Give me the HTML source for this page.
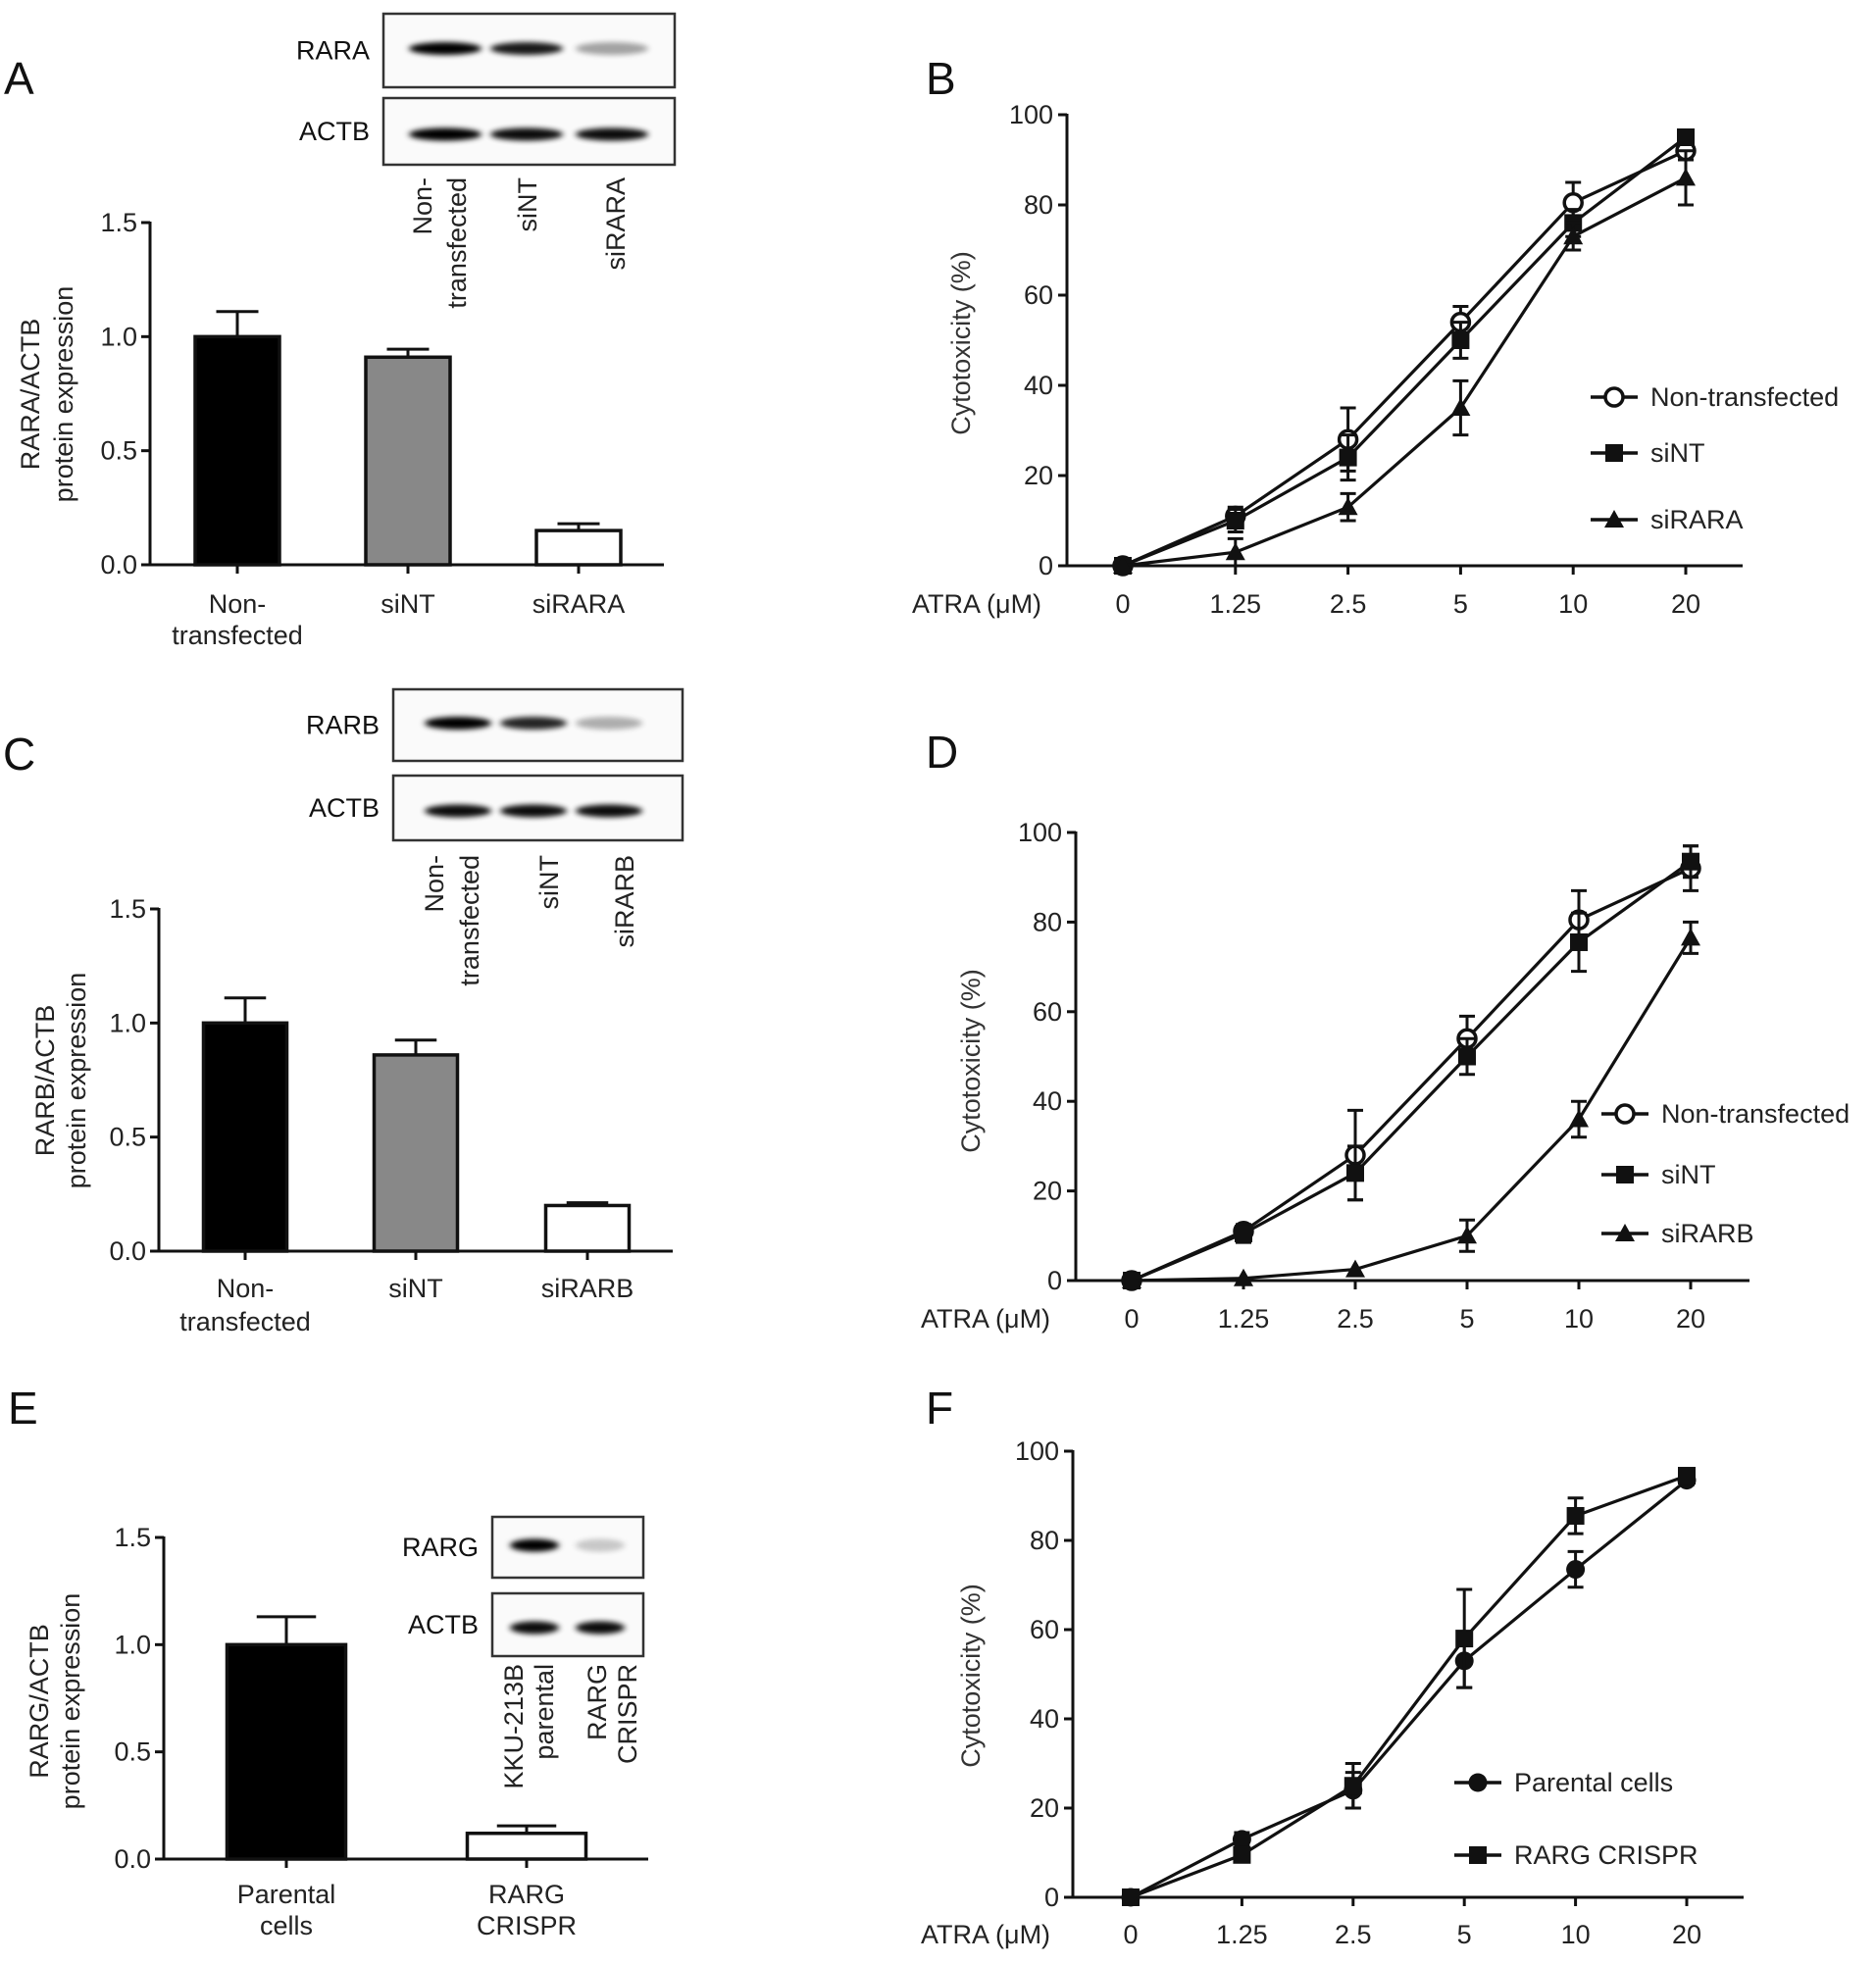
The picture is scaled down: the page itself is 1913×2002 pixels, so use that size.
<!DOCTYPE html>
<html><head><meta charset="utf-8">
<style>
html,body{margin:0;padding:0;background:#fff;}
svg{display:block;font-family:"Liberation Sans",Arial,sans-serif;}
</style></head>
<body>
<svg id="fig" width="1913" height="2002" viewBox="0 0 1913 2002" xmlns="http://www.w3.org/2000/svg">
<defs>
<filter id="blur" x="-30%" y="-100%" width="160%" height="300%"><feGaussianBlur stdDeviation="3.2 2.6"/></filter>
</defs>
</svg>
<script>
// ---- Panel A data ----
const barA_cats = ["Non-|transfected","siNT","siRARA"];
const barA_vals = [1.0, 0.91, 0.15];
const barA_errs = [0.11, 0.035, 0.03];
// ---- Panel C data ----
const barC_cats = ["Non-|transfected","siNT","siRARB"];
const barC_vals = [1.0, 0.86, 0.20];
const barC_errs = [0.11, 0.065, 0.012];
// ---- Panel E data ----
const barE_cats = ["Parental|cells","RARG|CRISPR"];
const barE_vals = [1.0, 0.12];
const barE_errs = [0.13, 0.035];
const bar_yticks = ["0.0","0.5","1.0","1.5"];
// ---- Line charts ----
const atra_doses = ["0","1.25","2.5","5","10","20"];
const line_yticks = ["0","20","40","60","80","100"];
// Panel B
const lineB_nt = [0, 11, 28, 54, 80.5, 92];
const lineB_nt_err = [0.5, 2, 7, 3.5, 4.5, 2];
const lineB_sint = [0, 10, 24, 50, 76, 95];
const lineB_sint_err = [0.5, 2.5, 5, 4, 3, 1.5];
const lineB_si = [0, 3, 13, 35, 73, 86];
const lineB_si_err = [0.5, 3, 3, 6, 3, 6];
// Panel D
const lineD_nt = [0, 11, 28, 54, 80.5, 92];
const lineD_nt_err = [0.5, 1.5, 10, 5, 6.5, 5];
const lineD_sint = [0, 10.5, 24, 50, 75.5, 93.5];
const lineD_sint_err = [0.5, 2, 6, 4, 6.5, 3.5];
const lineD_si = [0, 0.5, 2.5, 10, 36, 76.5];
const lineD_si_err = [0.3, 0.5, 0.5, 3.5, 4, 3.5];
// Panel F
const lineF_par = [0, 13, 24, 53, 73.5, 93.5];
const lineF_par_err = [0.5, 1.5, 4, 6, 4, 1];
const lineF_cr = [0, 9.5, 25, 58, 85.5, 94.5];
const lineF_cr_err = [0.5, 1.5, 5, 11, 4, 1.5];
// Blot band intensities (0-1)
const blotA_target = [1.0, 0.9, 0.35];
const blotA_actb = [1.0, 0.95, 0.95];
const blotC_target = [1.0, 0.85, 0.3];
const blotC_actb = [0.95, 0.95, 0.95];
const blotE_target = [1.0, 0.2];
const blotE_actb = [0.95, 0.95];

const NS = "http://www.w3.org/2000/svg";
const svg = document.getElementById("fig");
function mk(tag, attrs, parent){
  const e = document.createElementNS(NS, tag);
  for (const k in attrs) e.setAttribute(k, attrs[k]);
  (parent || svg).appendChild(e);
  return e;
}
function txt(str, attrs, parent){
  const e = mk("text", attrs, parent);
  e.textContent = str;
  return e;
}

function panelLetter(ch, x, y){
  const t = txt(ch, {x:x, y:y, "font-size":46, fill:"#111", "dominant-baseline":"central"});
  
  
}

function barChart(cfg, cats, vals, errs){
  const g = mk("g", {});
  
  
  const y = v => cfg.y0 + (cfg.y15 - cfg.y0) * v / 1.5;
  // y axis
  const ax = mk("line", {x1:cfg.ax, y1:y(1.5)-1, x2:cfg.ax, y2:y(0)+1.5, stroke:"#111","stroke-width":3}, g);
  
  
  bar_yticks.forEach((lab,i)=>{
    const v = parseFloat(lab);
    const tk = mk("line", {x1:cfg.ax-9, y1:y(v), x2:cfg.ax, y2:y(v), stroke:"#111","stroke-width":3}, g);
    
    
    const tl = txt(lab, {x:cfg.ax-13, y:y(v), "font-size":27, "text-anchor":"end","dominant-baseline":"central", fill:"#222"}, g);
    
    
  });
  const xa = mk("line", {x1:cfg.ax-1.5, y1:y(0), x2:cfg.axEnd, y2:y(0), stroke:"#111","stroke-width":3}, g);
  
  
  cats.forEach((c,i)=>{
    const cx = cfg.centers[i];
    const hw = cfg.bw/2;
    const b = mk("rect", {x:cx-hw, y:y(vals[i]), width:cfg.bw, height:y(0)-y(vals[i]), fill:cfg.fills[i], stroke:"#111","stroke-width":3.5}, g);
    
    
    const top = y(vals[i]+errs[i]);
    const e1 = mk("line", {x1:cx, y1:y(vals[i]), x2:cx, y2:top, stroke:"#111","stroke-width":3}, g);
    
    
    const e2 = mk("line", {x1:cx-hw*0.5, y1:top, x2:cx+hw*0.5, y2:top, stroke:"#111","stroke-width":3}, g);
    
    
    const tk = mk("line", {x1:cx, y1:y(0), x2:cx, y2:y(0)+9, stroke:"#111","stroke-width":3}, g);
    
    
    const lines = c.split('|');
    lines.forEach((ln,j)=>{
      const t = txt(ln, {x:cx, y:cfg.labY + j*cfg.labDY, "font-size":27, "text-anchor":"middle","dominant-baseline":"central", fill:"#222"}, g);
      
      
    });
  });
  // y title
  cfg.title.forEach((ln,j)=>{
    const t = txt(ln, {x:cfg.titleX[j], y:cfg.titleY, "font-size":27, "text-anchor":"middle","dominant-baseline":"central", fill:"#222", transform:`rotate(-90 ${cfg.titleX[j]} ${cfg.titleY})`}, g);
    
    
  });
}

function blot(cfg, target, actb){
  const g = mk("g", {});
  
  
  const boxes = [[cfg.b1y0,cfg.b1y1,cfg.label,target],[cfg.b2y0,cfg.b2y1,"ACTB",actb]];
  boxes.forEach((bx,k)=>{
    const r = mk("rect", {x:cfg.x0, y:bx[0], width:cfg.x1-cfg.x0, height:bx[1]-bx[0], fill:"#fafafa", stroke:"#333","stroke-width":2.5}, g);
    
    
    const cy = (bx[0]+bx[1])/2 + (k===0 ? -2 : 3);
    bx[3].forEach((inten,i)=>{
      const band = mk("ellipse", {cx:cfg.lanes[i], cy:cy, rx:cfg.bandW/2, ry:6.5, fill:"#000", opacity:inten, filter:"url(#blur)"}, g);
      
      
    });
    const t = txt(bx[2], {x:cfg.x0-14, y:(bx[0]+bx[1])/2, "font-size":27, "text-anchor":"end","dominant-baseline":"central", fill:"#111"}, g);
    
    
  });
  cfg.laneLabels.forEach(ll=>{
    const t = txt(ll[0], {x:ll[1], y:cfg.labTop, "font-size":27, "text-anchor":"end","dominant-baseline":"central", fill:"#222", transform:`rotate(-90 ${ll[1]} ${cfg.labTop})`}, g);
    
    
  });
}

function marker(g, type, x, y){
  let m;
  if (type==="circle-open") m = mk("circle", {cx:x, cy:y, r:9, fill:"#fff", stroke:"#111","stroke-width":3.5}, g);
  else if (type==="circle") m = mk("circle", {cx:x, cy:y, r:9.5, fill:"#111"}, g);
  else if (type==="square") m = mk("rect", {x:x-9, y:y-9, width:18, height:18, fill:"#111"}, g);
  else m = mk("polygon", {points:`${x},${y-10} ${x-10},${y+8} ${x+10},${y+8}`, fill:"#111"}, g);
  return m;
}

function lineChart(cfg, series){
  const g = mk("g", {});
  
  
  const y = v => cfg.y0 + (cfg.y100 - cfg.y0) * v / 100;
  const x = i => cfg.x0 + i * cfg.dx;
  const ya = mk("line", {x1:cfg.ax, y1:y(100)-1, x2:cfg.ax, y2:y(0)+1.5, stroke:"#111","stroke-width":3}, g);
  
  
  line_yticks.forEach(lab=>{
    const v = parseFloat(lab);
    const tk = mk("line", {x1:cfg.ax-9, y1:y(v), x2:cfg.ax, y2:y(v), stroke:"#111","stroke-width":3}, g);
    
    
    const tl = txt(lab, {x:cfg.ax-14, y:y(v), "font-size":27, "text-anchor":"end","dominant-baseline":"central", fill:"#222"}, g);
    
    
  });
  const xa = mk("line", {x1:cfg.ax-1.5, y1:y(0), x2:cfg.axEnd, y2:y(0), stroke:"#111","stroke-width":3}, g);
  
  
  atra_doses.forEach((d,i)=>{
    const tk = mk("line", {x1:x(i), y1:y(0), x2:x(i), y2:y(0)+9, stroke:"#111","stroke-width":3}, g);
    
    
    const tl = txt(d, {x:x(i), y:cfg.xLabY, "font-size":27, "text-anchor":"middle","dominant-baseline":"central", fill:"#222"}, g);
    
    
  });
  const at = txt("ATRA (\u03BCM)", {x:cfg.atraX, y:cfg.xLabY, "font-size":27, "dominant-baseline":"central", fill:"#222"}, g);
  
  
  const yt = txt("Cytotoxicity (%)", {x:cfg.titleX, y:cfg.titleY, "font-size":27, "text-anchor":"middle","dominant-baseline":"central", fill:"#333", transform:`rotate(-90 ${cfg.titleX} ${cfg.titleY})`}, g);
  
  
  series.forEach((s,k)=>{
    const sg = mk("g", {}, g);
    
    
    const pts = s.vals.map((v,i)=>`${x(i)},${y(v)}`).join(' ');
    const pl = mk("polyline", {points:pts, fill:"none", stroke:"#111","stroke-width":3.2,"stroke-linejoin":"round"}, sg);
    
    
    s.vals.forEach((v,i)=>{
      const e = s.errs[i];
      if (e > 0.8){
        const eb = mk("path", {d:`M${x(i)},${y(v-e)}V${y(v+e)}M${x(i)-8},${y(v-e)}H${x(i)+8}M${x(i)-8},${y(v+e)}H${x(i)+8}`, fill:"none", stroke:"#111","stroke-width":3}, sg);
        
        
      }
      const m = marker(sg, s.type, x(i), y(v));
      
      
    });
    // legend
    const ly = cfg.legY[k];
    const lg = mk("g", {}, g);
    
    
    mk("line", {x1:cfg.legX-24, y1:ly, x2:cfg.legX+24, y2:ly, stroke:"#111","stroke-width":3.5}, lg);
    marker(lg, s.type, cfg.legX, ly);
    txt(s.label, {x:cfg.legX+37, y:ly, "font-size":27, "dominant-baseline":"central", fill:"#222"}, lg);
  });
}

// Panel letters
panelLetter("A", 4, 80);
panelLetter("B", 944, 80);
panelLetter("C", 3, 769);
panelLetter("D", 944, 767);
panelLetter("E", 8, 1436);
panelLetter("F", 944, 1436);

// Panel A
blot({name:"blot-a", x0:391, x1:688, b1y0:14, b1y1:89, b2y0:100, b2y1:168, label:"RARA", lanes:[454,537,624], bandW:74,
  labTop:181, laneLabels:[["Non-",431],["transfected",466],["siNT",538],["siRARA",628]]}, blotA_target, blotA_actb);
barChart({name:"bar-chart-a", ax:153, axEnd:677, y0:576, y15:227, centers:[242,416,590], bw:86, fills:["#000","#888","#fff"],
  labY:616, labDY:32, title:["RARA/ACTB","protein expression"], titleX:[31,65], titleY:402}, barA_cats, barA_vals, barA_errs);

// Panel B
lineChart({name:"line-chart-b", ax:1088, axEnd:1777, y0:577, y100:117, x0:1145, dx:114.8, xLabY:616, atraX:930,
  titleX:980, titleY:350, legX:1646, legY:[405,462,530]},
  [{label:"Non-transfected", type:"circle-open", vals:lineB_nt, errs:lineB_nt_err},
   {label:"siNT", type:"square", vals:lineB_sint, errs:lineB_sint_err},
   {label:"siRARA", type:"triangle", vals:lineB_si, errs:lineB_si_err}]);

// Panel C
blot({name:"blot-c", x0:401, x1:696, b1y0:703, b1y1:776, b2y0:791, b2y1:857, label:"RARB", lanes:[467,544,621], bandW:68,
  labTop:872, laneLabels:[["Non-",443],["transfected",479],["siNT",560],["siRARB",637]]}, blotC_target, blotC_actb);
barChart({name:"bar-chart-c", ax:162, axEnd:686, y0:1276, y15:927, centers:[250,424,599], bw:85, fills:["#000","#888","#fff"],
  labY:1314, labDY:34, title:["RARB/ACTB","protein expression"], titleX:[46,78], titleY:1102}, barC_cats, barC_vals, barC_errs);

// Panel D
lineChart({name:"line-chart-d", ax:1097, axEnd:1784, y0:1306, y100:849, x0:1154, dx:114, xLabY:1345, atraX:939,
  titleX:990, titleY:1082, legX:1657, legY:[1136,1198,1258]},
  [{label:"Non-transfected", type:"circle-open", vals:lineD_nt, errs:lineD_nt_err},
   {label:"siNT", type:"square", vals:lineD_sint, errs:lineD_sint_err},
   {label:"siRARB", type:"triangle", vals:lineD_si, errs:lineD_si_err}]);

// Panel E
barChart({name:"bar-chart-e", ax:167, axEnd:661, y0:1896, y15:1568, centers:[292,537], bw:121, fills:["#000","#fff"],
  labY:1932, labDY:32, title:["RARG/ACTB","protein expression"], titleX:[40,72], titleY:1735}, barE_cats, barE_vals, barE_errs);
blot({name:"blot-e", x0:502, x1:656, b1y0:1547, b1y1:1609, b2y0:1625, b2y1:1689, label:"RARG", lanes:[545,612], bandW:50,
  labTop:1697, laneLabels:[["KKU-213B",524],["parental",555],["RARG",609],["CRISPR",640]]}, blotE_target, blotE_actb);

// Panel F
lineChart({name:"line-chart-f", ax:1094, axEnd:1778, y0:1935, y100:1480, x0:1153, dx:113.4, xLabY:1973, atraX:939,
  titleX:990, titleY:1709, legX:1507, legY:[1818,1892]},
  [{label:"Parental cells", type:"circle", vals:lineF_par, errs:lineF_par_err},
   {label:"RARG CRISPR", type:"square", vals:lineF_cr, errs:lineF_cr_err}]);
</script>
</body></html>
